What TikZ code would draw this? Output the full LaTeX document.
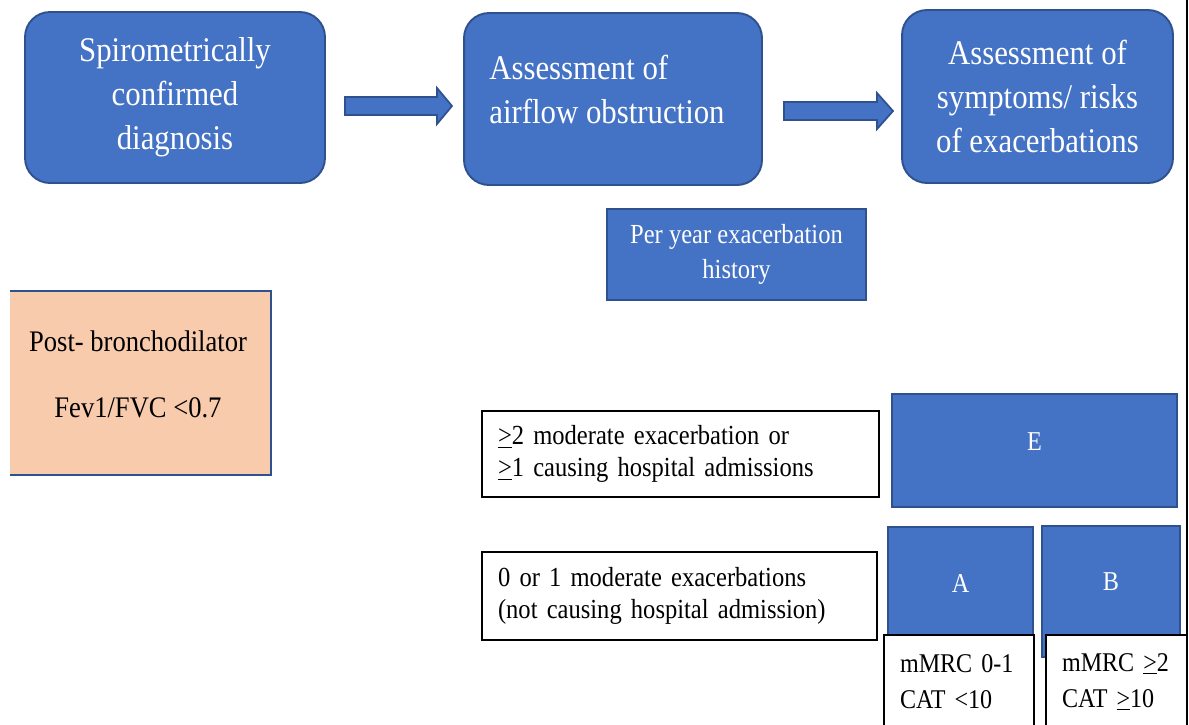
\documentclass[tikz,border=0pt]{standalone}
\usepackage{fontspec}
\setmainfont{Liberation Serif}[FakeStretch=0.89]
\definecolor{boxblue}{HTML}{4472C4}
\definecolor{edgeblue}{HTML}{2F528F}
\definecolor{pinkfill}{HTML}{F8CBAD}

\begin{document}
\begin{tikzpicture}[x=0.02cm, y=-0.02cm,
    stagebox/.style={draw=edgeblue, line width=1.1pt, fill=boxblue, rounded corners=0.5cm, text=white, align=center, font=\fontsize{19.7}{25}\selectfont},
    stagetext/.style={text=white, inner sep=0pt, font=\fontsize{19.7}{25}\selectfont},
    groupbox/.style={draw=edgeblue, line width=1pt, fill=boxblue},
    grouptext/.style={text=white, inner sep=0pt, font=\fontsize{15.5}{18}\selectfont},
    critbox/.style={draw=black, line width=0.9pt, fill=white, align=left, inner xsep=0.32cm, inner ysep=0pt, font=\fontsize{15.7}{18.2}\selectfont},
    scorebox/.style={draw=black, line width=0.9pt, fill=white, align=left, inner xsep=0.32cm, inner ysep=0pt, font=\fontsize{15.4}{20.5}\selectfont},
    blockarrow/.style={draw=edgeblue, line width=1pt, fill=boxblue, line join=miter}
]
    \useasboundingbox (0,0) rectangle (1189,724);
    \clip (0,0) rectangle (1189,724);

    % Etapas
    \node[stagebox, minimum width=6cm, minimum height=3.42cm] (diagnosis) at (175,97.5) {Spirometrically\\confirmed\\diagnosis};
    \node[stagebox, minimum width=5.96cm, minimum height=3.44cm] (obstruction) at (613,99) {};
    \node[stagetext, align=left, anchor=west] (obstructiontext) at (489,89.5) {Assessment of\\airflow obstruction};
    \node[stagebox, minimum width=5.42cm, minimum height=3.46cm] (symptoms) at (1037.5,96.5) {Assessment of\\symptoms/ risks\\of exacerbations};

    % Setas
    \draw[blockarrow] (345,97) -- (437,97) -- (437,88) -- (452,106) -- (437,124) -- (437,115) -- (345,115) -- cycle;
    \draw[blockarrow] (784,102) -- (877,102) -- (877,93) -- (893,111) -- (877,129) -- (877,120) -- (784,120) -- cycle;

    % Historico
    \node[groupbox, minimum width=5.18cm, minimum height=1.82cm, text=white, align=center, font=\fontsize{15.7}{20}\selectfont] (history) at (736.5,254.5) {Per year exacerbation\\history};

    % Espirometria
    \node[fill=pinkfill, minimum width=5.22cm, minimum height=3.68cm] (spiro) at (140.5,383) {};
    \draw[edgeblue, line width=1.1pt] (spiro.north west) -- (spiro.north east) -- (spiro.south east) -- (spiro.south west);
    \node[align=center, inner sep=0pt, font=\fontsize{17}{37.6}\selectfont] (spirotext) at (138,374) {Post- bronchodilator\\Fev1/FVC <0.7};

    % Criterios
    \node[critbox, text width=7.3cm, minimum height=1.72cm] (highrisk) at (680.5,454) {\underline{>}2 moderate exacerbation or\\\underline{>}1 causing hospital admissions};
    \node[critbox, text width=7.26cm, minimum height=1.76cm] (lowrisk) at (679.5,596) {0 or 1 moderate exacerbations\\(not causing hospital admission)};

    % Grupos
    \node[groupbox, minimum width=5.7cm, minimum height=2.26cm] (groupe) at (1034.5,450.5) {};
    \node[grouptext] (groupetext) at (1034.5,442) {E};
    \node[groupbox, minimum width=2.9cm, minimum height=2.56cm] (groupa) at (960.5,591) {};
    \node[grouptext] (groupatext) at (960.5,583) {A};
    \node[groupbox, minimum width=2.76cm, minimum height=2.62cm] (groupb) at (1111,591.5) {};
    \node[grouptext] (groupbtext) at (1111,582) {B};

    % Escalas
    \node[scorebox, text width=2.36cm, minimum height=1.88cm] (scorea) at (959,682) {mMRC~0-1\\CAT~<10};
    \node[scorebox, text width=2.18cm, minimum height=1.88cm] (scoreb) at (1116.5,682) {mMRC~\underline{>}2\\CAT~\underline{>}10};

    \draw[line width=1.2pt] (1187,0) -- (1187,724);
\end{tikzpicture}
\end{document}
